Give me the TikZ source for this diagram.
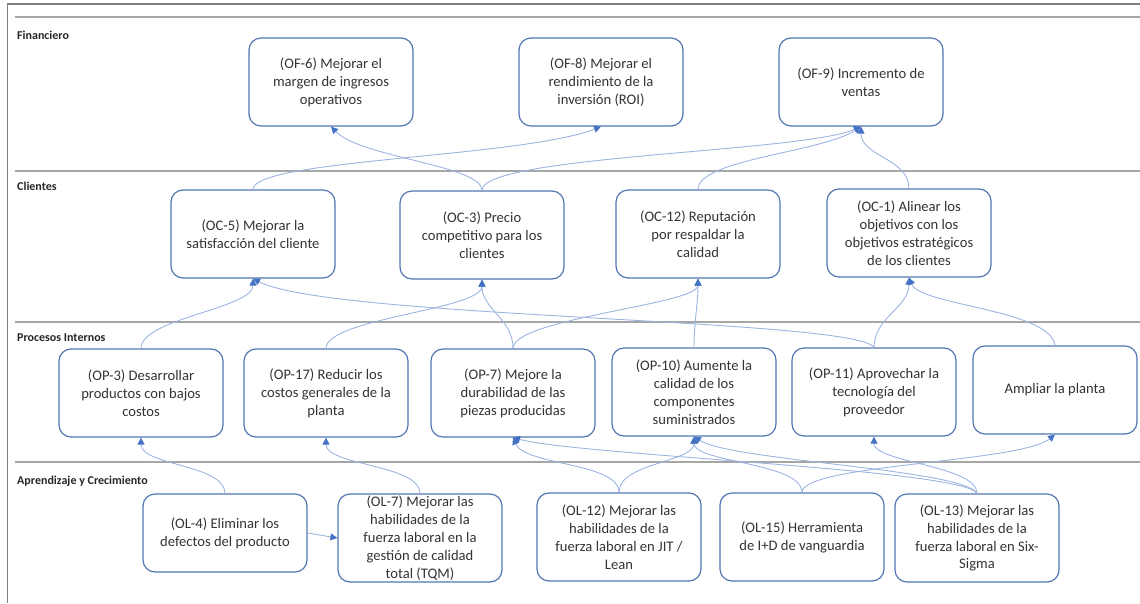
\documentclass[tikz,border=0pt]{standalone}
\usepackage{fontspec}
\setmainfont{Carlito}
\usetikzlibrary{arrows.meta}
\definecolor{boxblue}{HTML}{5274B0}
\definecolor{linkblue}{HTML}{9DB4E0}
\definecolor{tipblue}{HTML}{4472C4}
\definecolor{txt}{HTML}{333333}
\definecolor{framegray}{HTML}{7F7F7F}
\definecolor{lanegray}{HTML}{A6A6A6}
\begin{document}
\begin{tikzpicture}[x=1pt,y=-1pt,
  obj/.style={draw=boxblue, line width=1.2pt, rounded corners=12pt, minimum width=164pt, minimum height=88pt, align=center, text=txt, font=\fontsize{14.6}{17.9}\selectfont, inner xsep=2pt, inner ysep=0pt},
  link/.style={draw=linkblue, line width=0.9pt, -{Triangle[length=7pt,width=7pt,fill=tipblue,color=tipblue]}},
  lanelbl/.style={anchor=west, font=\fontsize{12}{14}\selectfont\bfseries, text=black!85, inner sep=0pt},
  frameline/.style={draw=framegray, line width=1.8pt},
  laneline/.style={draw=lanegray, line width=1.3pt}]
\useasboundingbox (0,0) rectangle (1140,603);
% frame and lanes
\draw[frameline] (6.6,4) -- (1140,4);
\draw[frameline] (7.5,3.1) -- (7.5,603);
\draw[laneline] (15,17) -- (1140,17);
\draw[laneline] (15,171) -- (1140,171);
\draw[laneline] (15,322) -- (1140,322);
\draw[laneline] (15,462) -- (1140,462);
\node[lanelbl] (l1) at (17,35) {Financiero};
\node[lanelbl] (l2) at (17,186) {Clientes};
\node[lanelbl] (l3) at (17,338) {Procesos Internos};
\node[lanelbl] (l4) at (17,481) {Aprendizaje y Crecimiento};
% Financiero
\node[obj] (of6) at (331,82) {(OF-6) Mejorar el\\margen de ingresos\\operativos};
\node[obj] (of8) at (601,82) {(OF-8) Mejorar el\\rendimiento de la\\inversión (ROI)};
\node[obj] (of9) at (861,82) {(OF-9) Incremento de\\ventas};
% Clientes
\node[obj] (oc5) at (253,234) {(OC-5) Mejorar la\\satisfacción del cliente};
\node[obj] (oc3) at (482,235) {(OC-3) Precio\\competitivo para los\\clientes};
\node[obj] (oc12) at (698,234) {(OC-12) Reputación\\por respaldar la\\calidad};
\node[obj] (oc1) at (909,233) {(OC-1) Alinear los\\objetivos con los\\objetivos estratégicos\\de los clientes};
% Procesos
\node[obj] (op3) at (141,393) {(OP-3) Desarrollar\\productos con bajos\\costos};
\node[obj] (op17) at (326,393) {(OP-17) Reducir los\\costos generales de la\\planta};
\node[obj] (op7) at (513,393) {(OP-7) Mejore la\\durabilidad de las\\piezas producidas};
\node[obj] (op10) at (694,392) {(OP-10) Aumente la\\calidad de los\\componentes\\suministrados};
\node[obj] (op11) at (874,392) {(OP-11) Aprovechar la\\tecnología del\\proveedor};
\node[obj] (amp) at (1055,390) {Ampliar la planta};
% Aprendizaje
\node[obj, minimum height=78pt] (ol4) at (225,533) {(OL-4) Eliminar los\\defectos del producto};
\node[obj] (ol7) at (420,538) {(OL-7) Mejorar las\\habilidades de la\\fuerza laboral en la\\gestión de calidad\\total (TQM)};
\node[obj] (ol12) at (619,537) {(OL-12) Mejorar las\\habilidades de la\\fuerza laboral en JIT /\\Lean};
\node[obj] (ol15) at (802,537) {(OL-15) Herramienta\\de I+D de vanguardia};
\node[obj] (ol13) at (977,538) {(OL-13) Mejorar las\\habilidades de la\\fuerza laboral en Six-\\Sigma};
% Clientes -> Financiero
\draw[link] (oc5.north) .. controls +(0,-30) and +(-80,31) .. (of8.south);
\draw[link] (oc3.north) .. controls +(0,-25) and +(30,31) .. (of6.south);
\draw[link] (oc3.north) .. controls +(0,-35) and +(-60,26) .. (of9.south);
\draw[link] (oc12.north) .. controls +(0,-30) and +(-40,26) .. (of9.south);
\draw[link] (oc1.north) .. controls +(0,-30) and +(0,30) .. (of9.south);
% Procesos -> Clientes
\draw[link] (op3.north) .. controls +(0,-30) and +(0,30) .. (oc5.south);
\draw[link] (op17.north) .. controls +(0,-30) and +(0,30) .. (oc3.south);
\draw[link] (op7.north) .. controls +(0,-30) and +(0,30) .. (oc3.south);
\draw[link] (op7.north) .. controls +(0,-30) and +(0,26) .. (oc12.south);
\draw[link] (op10.north) .. controls +(0,-25) and +(0,25) .. (oc12.south);
\draw[link] (op11.north) .. controls +(-19,-29) and +(77,40) .. (oc5.south);
\draw[link] (op11.north) .. controls +(0,-30) and +(0,30) .. (oc1.south);
\draw[link] (amp.north) .. controls +(-5,-36) and +(11,28) .. (oc1.south);
% Aprendizaje -> Procesos
\draw[link] (ol4.north) .. controls +(0,-29) and +(0,28) .. (op3.south);
\draw[link] (ol7.north) .. controls +(0,-29) and +(0,28) .. (op17.south);
\draw[link] (ol4.east) -- (ol7.west);
\draw[link] (ol12.north) .. controls +(0,-30) and +(12,28) .. (op7.south);
\draw[link] (ol12.north) .. controls +(0,-30) and +(0,26) .. (op10.south);
\draw[link] (ol15.north) .. controls +(0,-30) and +(0,26) .. (op10.south);
\draw[link] (ol15.north) .. controls +(0,-28) and +(-35,28) .. (amp.south);
\draw[link] (ol13.north) .. controls +(-12,-24) and +(67,18) .. (op7.south);
\draw[link] (ol13.north) .. controls +(-12,-24) and +(36,24) .. (op10.south);
\draw[link] (ol13.north) .. controls +(0,-28) and +(0,26) .. (op11.south);
\end{tikzpicture}
\end{document}
